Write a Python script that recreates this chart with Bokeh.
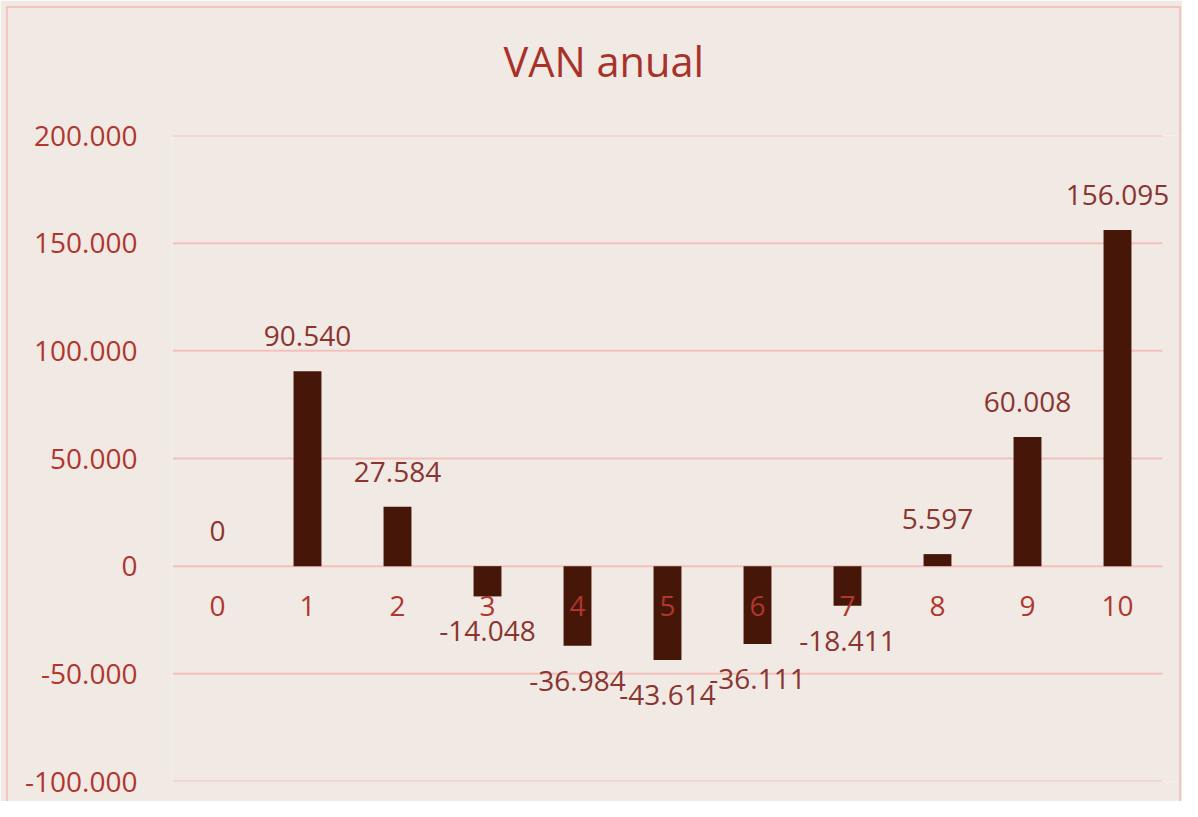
from bokeh.plotting import figure
from bokeh.models import (Range1d, FixedTicker, CustomJSTickFormatter, ColumnDataSource,
                          Label, Title, InlineStyleSheet)
from bokeh.embed import file_html
from bokeh.resources import INLINE
from bokeh.core.properties import value

categories = ["0", "1", "2", "3", "4", "5", "6", "7", "8", "9", "10"]
van = [0, 90540, 27584, -14048, -36984, -43614, -36111, -18411, 5597, 60008, 156095]
y_ticks = [-100000, -50000, 0, 50000, 100000, 150000, 200000]

BG = "#F1E9E4"
GRID = "#F4C0BB"
FONT = "Open Sans"


def fmt(v):
    return f"{v:,}".replace(",", ".")


idx = list(range(len(categories)))
src = ColumnDataSource(dict(x=idx, cat=categories, val=van, zero=[0] * len(van)))
n = len(categories)
x_lo, x_hi = -0.5, n - 0.5
grid_src = ColumnDataSource(dict(x0=[x_lo] * len(y_ticks), x1=[x_hi] * len(y_ticks), y=y_ticks))

# frame extends 20px past the last category so the last data label is not clipped
p = figure(width=1182, height=801,
           x_range=Range1d(x_lo, x_hi + 20 / 90),
           y_range=Range1d(y_ticks[0], y_ticks[-1]),
           output_backend="svg", toolbar_location=None,
           min_border_left=172, min_border_right=0,
           min_border_top=135, min_border_bottom=20)

p.background_fill_color = BG
p.border_fill_color = BG
p.outline_line_color = None

# chart-area border (pink) like the spreadsheet chart box
p.stylesheets = [InlineStyleSheet(css="""
:host { position: relative; }
:host::after {
  content: ""; position: absolute; left: 6px; top: 6px; right: 1px; bottom: 0px;
  border: 2px solid #F5C4C0; border-bottom: none; pointer-events: none; z-index: 10;
}
""")]

p.title.text = "VAN anual"
p.title.align = "left"
p.title.offset = 331
p.title.text_font = FONT
p.title.text_font_size = "41.5px"
p.title.text_font_style = "normal"
p.title.text_color = "#A8322A"
p.title.standoff = 0

spacer = Title(text=" ", text_font_size="1px", standoff=44, text_color=BG)
p.add_layout(spacer, "above")

p.xaxis.visible = False
p.xgrid.grid_line_color = None
p.ygrid.grid_line_color = None

p.segment(x0="x0", x1="x1", y0="y", y1="y", source=grid_src,
          line_color=GRID, line_width=2)

ax = p.yaxis[0]
ax.ticker = FixedTicker(ticks=y_ticks)
ax.axis_line_color = None
ax.major_tick_line_color = None
ax.minor_tick_line_color = None
ax.major_label_standoff = 29
ax.major_label_text_font = FONT
ax.major_label_text_font_size = "28px"
ax.major_label_text_color = "#B0362E"
ax.formatter = CustomJSTickFormatter(code="""
const s = Math.abs(Math.round(tick)).toString().replace(/\\B(?=(\\d{3})+(?!\\d))/g, ".");
return (tick < 0 ? "-" : "") + s;
""")

p.vbar(x="x", top="val", bottom=0, width=0.31, source=src,
       fill_color="#461608", line_color=None)

p.text(x="x", y="zero", text="cat", source=src,
       text_font=value(FONT), text_font_size="28px", text_color="#B0362E",
       text_align="center", text_baseline="middle", y_offset=40)

for i, v in zip(idx, van):
    p.add_layout(Label(x=i, y=v, text=fmt(v),
                       text_font=FONT, text_font_size="28px", text_color="#8A3530",
                       text_align="center", text_baseline="bottom",
                       y_offset=25 if v >= 0 else -45))

open("out.html", "w").write(file_html(p, INLINE))
